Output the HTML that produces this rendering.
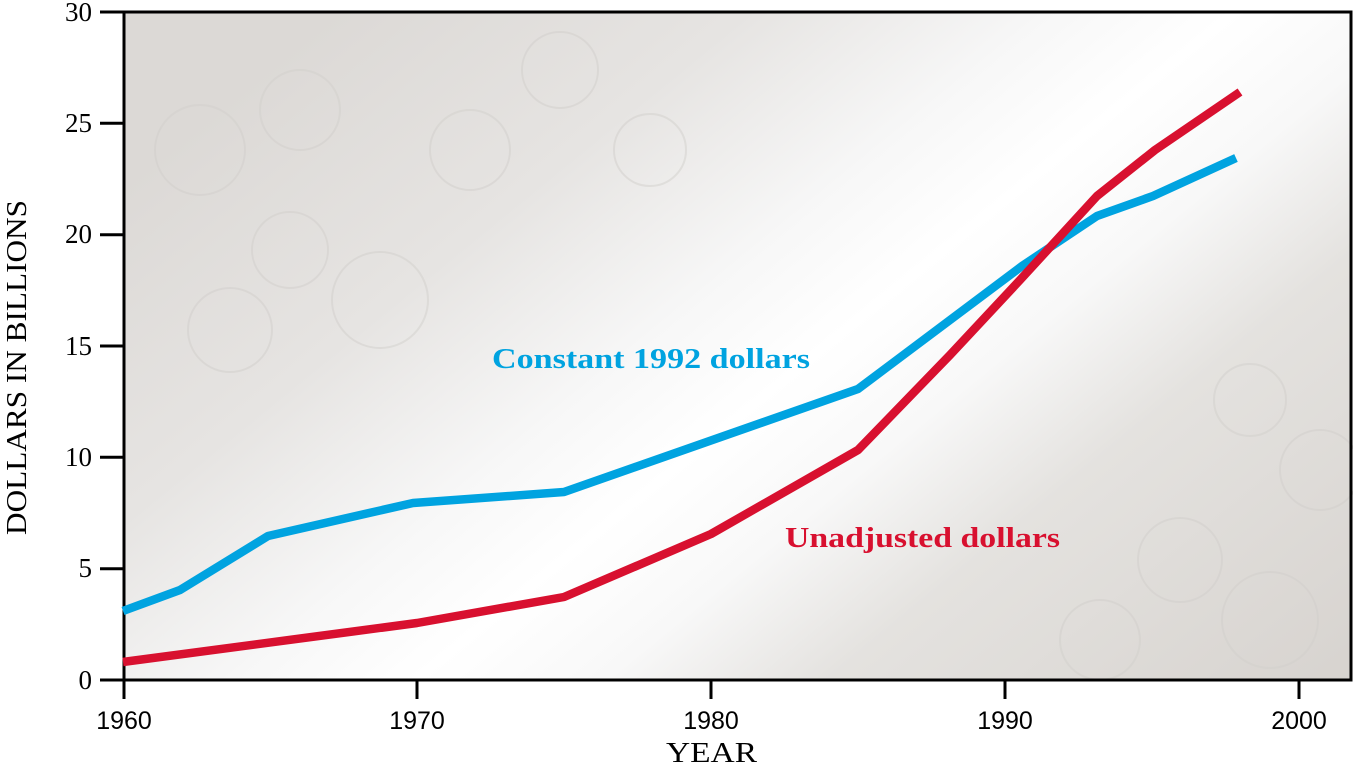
<!DOCTYPE html>
<html><head><style>
html,body{margin:0;padding:0;background:#fff;}
svg{display:block;}
</style></head><body>
<svg width="1353" height="765" viewBox="0 0 1353 765" xmlns="http://www.w3.org/2000/svg">
<defs>
<linearGradient id="bg" x1="250" y1="80" x2="1000" y2="1000" gradientUnits="userSpaceOnUse">
<stop offset="0" stop-color="#dcd9d6"/>
<stop offset="0.22" stop-color="#e6e4e2"/>
<stop offset="0.38" stop-color="#f7f7f7"/>
<stop offset="0.48" stop-color="#ffffff"/>
<stop offset="0.58" stop-color="#f8f8f8"/>
<stop offset="0.7" stop-color="#e4e2df"/>
<stop offset="1" stop-color="#d6d2ce"/>
</linearGradient>
</defs>
<rect x="124" y="12" width="1227" height="668" fill="url(#bg)"/>
<g fill="none" stroke="#d2cfcc" stroke-width="2" opacity="0.5">
<circle cx="200" cy="150" r="45"/><circle cx="300" cy="110" r="40"/><circle cx="380" cy="300" r="48"/>
<circle cx="230" cy="330" r="42"/><circle cx="470" cy="150" r="40"/><circle cx="560" cy="70" r="38"/>
<circle cx="290" cy="250" r="38"/><circle cx="650" cy="150" r="36"/>
<circle cx="1270" cy="620" r="48"/><circle cx="1180" cy="560" r="42"/><circle cx="1100" cy="640" r="40"/>
<circle cx="1320" cy="470" r="40"/><circle cx="1250" cy="400" r="36"/>
</g>
<rect x="124" y="12" width="1227" height="668" fill="none" stroke="#000" stroke-width="3"/>
<g stroke="#000" stroke-width="3">
<line x1="100" y1="12" x2="124" y2="12"/>
<line x1="100" y1="123.3" x2="124" y2="123.3"/>
<line x1="100" y1="234.7" x2="124" y2="234.7"/>
<line x1="100" y1="346" x2="124" y2="346"/>
<line x1="100" y1="457.3" x2="124" y2="457.3"/>
<line x1="100" y1="568.7" x2="124" y2="568.7"/>
<line x1="100" y1="680" x2="124" y2="680"/>
<line x1="124" y1="680" x2="124" y2="699"/>
<line x1="417" y1="680" x2="417" y2="699"/>
<line x1="711" y1="680" x2="711" y2="699"/>
<line x1="1005" y1="680" x2="1005" y2="699"/>
<line x1="1299" y1="680" x2="1299" y2="699"/>
</g>
<g font-family="Liberation Serif, serif" font-size="27" fill="#000" text-anchor="end">
<text x="92" y="21">30</text>
<text x="92" y="132">25</text>
<text x="92" y="243">20</text>
<text x="92" y="355">15</text>
<text x="92" y="466">10</text>
<text x="92" y="577">5</text>
<text x="92" y="689">0</text>
</g>
<g font-family="Liberation Sans, sans-serif" font-size="25" fill="#000" text-anchor="middle">
<text x="124" y="729">1960</text>
<text x="417" y="729">1970</text>
<text x="711" y="729">1980</text>
<text x="1005" y="729">1990</text>
<text x="1299" y="729">2000</text>
</g>
<text x="666" y="762" font-family="Liberation Serif, serif" font-size="28" textLength="91" lengthAdjust="spacingAndGlyphs">YEAR</text>
<text transform="translate(26,535) rotate(-90)" font-family="Liberation Serif, serif" font-size="28" textLength="335" lengthAdjust="spacingAndGlyphs">DOLLARS IN BILLIONS</text>
<polyline fill="none" stroke="#00a3e0" stroke-width="8.5" stroke-linejoin="round"
 points="123,611 180,590 268,536 413,503 564,492 858,389 1022,266 1097,216 1153,196 1236,158"/>
<polyline fill="none" stroke="#d8102f" stroke-width="8.5" stroke-linejoin="round"
 points="123,662 417,623 564,597 711,534 858,450 950,355 1020,280 1097,196 1155,150 1240,92"/>
<text x="492" y="368" font-family="Liberation Serif, serif" font-weight="bold" font-size="29" fill="#00a3e0" textLength="318" lengthAdjust="spacingAndGlyphs">Constant 1992 dollars</text>
<text x="785" y="547" font-family="Liberation Serif, serif" font-weight="bold" font-size="29" fill="#d8102f" textLength="275" lengthAdjust="spacingAndGlyphs">Unadjusted dollars</text>
</svg>
</body></html>
